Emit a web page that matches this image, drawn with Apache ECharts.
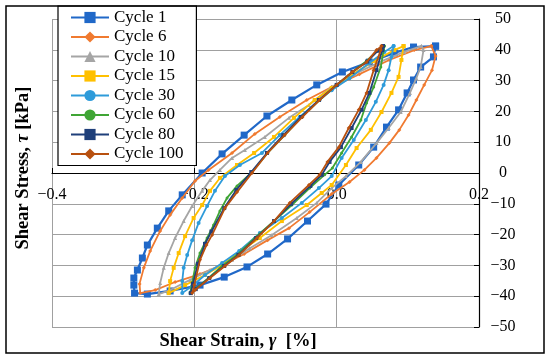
<!DOCTYPE html>
<html>
<head>
<meta charset="utf-8">
<script src="https://cdn.jsdelivr.net/npm/echarts@6/dist/echarts.min.js"></script>
<style>html,body{margin:0;padding:0;background:#fff}#c{width:550px;height:361px}</style>
</head>
<body>
<div id="c"></div>
<script>
var seriesNames = ['Cycle 1','Cycle 6','Cycle 10','Cycle 15','Cycle 30','Cycle 60','Cycle 80','Cycle 100'];
var cycle1 = [[0.139,41.2],[0.136,37.7],[0.118,34.4],[0.108,30.2],[0.099,26.0],[0.087,20.5],[0.070,14.9],[0.052,8.4],[0.031,2.6],[0.003,-3.9],[-0.015,-10.1],[-0.041,-15.6],[-0.069,-21.4],[-0.097,-26.3],[-0.126,-30.5],[-0.158,-33.8],[-0.192,-36.4],[-0.234,-38.3],[-0.266,-39.3],[-0.284,-39.0],[-0.285,-36.4],[-0.285,-34.1],[-0.280,-31.5],[-0.273,-27.6],[-0.266,-23.4],[-0.252,-17.9],[-0.236,-12.3],[-0.217,-7.1],[-0.189,0],[-0.161,6.2],[-0.130,12.3],[-0.098,18.5],[-0.063,23.7],[-0.028,28.6],[0.008,32.8],[0.046,36.0],[0.081,39.0],[0.108,40.9],[0.139,41.2]];
var cycle6 = [[0.133,41.2],[0.139,38.0],[0.134,33.4],[0.123,28.6],[0.112,23.7],[0.101,18.8],[0.088,14.0],[0.074,9.7],[0.056,4.9],[0.039,1.0],[0.018,-2.9],[-0.007,-6.8],[-0.038,-12.7],[-0.067,-17.9],[-0.097,-21.8],[-0.130,-26.3],[-0.161,-29.9],[-0.192,-32.8],[-0.227,-35.4],[-0.255,-38.0],[-0.276,-39.0],[-0.277,-36.0],[-0.271,-30.8],[-0.262,-25.3],[-0.248,-18.8],[-0.234,-13.6],[-0.217,-8.1],[-0.199,-2.6],[-0.180,1.0],[-0.147,6.5],[-0.115,12.7],[-0.080,18.2],[-0.042,23.7],[-0.007,27.9],[0.032,32.1],[0.074,36.7],[0.109,39.9],[0.133,41.2]];
var cycle10 = [[0.119,41.2],[0.122,39.9],[0.118,34.4],[0.112,30.8],[0.103,26.0],[0.090,19.8],[0.073,14.6],[0.056,9.7],[0.034,3.6],[0.013,-1.0],[-0.007,-4.9],[-0.028,-9.7],[-0.056,-14.6],[-0.091,-20.1],[-0.122,-24.4],[-0.147,-28.2],[-0.178,-31.5],[-0.206,-34.7],[-0.234,-38.0],[-0.250,-39.3],[-0.248,-35.7],[-0.243,-30.8],[-0.236,-26.0],[-0.227,-21.1],[-0.215,-15.6],[-0.203,-10.7],[-0.189,-5.8],[-0.178,-2.3],[-0.164,1.0],[-0.147,4.9],[-0.129,7.5],[-0.101,11.7],[-0.067,17.9],[-0.039,22.1],[-0.007,27.9],[0.025,32.1],[0.060,36.0],[0.095,39.3],[0.119,41.2]];
var cycle15 = [[0.094,41.2],[0.091,36.7],[0.087,31.2],[0.077,26.0],[0.063,19.8],[0.048,14.0],[0.028,8.1],[0.013,2.6],[-0.007,-3.9],[-0.021,-6.5],[-0.042,-10.4],[-0.077,-15.6],[-0.108,-21.1],[-0.133,-25.0],[-0.161,-29.9],[-0.185,-33.1],[-0.213,-36.4],[-0.236,-39.0],[-0.234,-35.1],[-0.229,-30.8],[-0.222,-26.0],[-0.213,-20.5],[-0.201,-14.6],[-0.189,-10.4],[-0.178,-5.8],[-0.164,-1.6],[-0.140,2.6],[-0.116,6.5],[-0.088,11.7],[-0.060,17.9],[-0.031,23.7],[-0.007,27.6],[0.018,31.5],[0.053,36.4],[0.081,39.9],[0.094,41.2]];
var cycle30 = [[0.080,41.2],[0.077,37.7],[0.073,33.4],[0.066,28.6],[0.055,23.1],[0.041,17.2],[0.024,10.7],[0.007,4.9],[-0.007,-1.0],[-0.025,-4.9],[-0.049,-9.7],[-0.077,-14.6],[-0.108,-19.5],[-0.137,-25.3],[-0.161,-29.2],[-0.185,-33.1],[-0.203,-36.7],[-0.217,-39.0],[-0.217,-35.1],[-0.215,-30.8],[-0.210,-26.6],[-0.203,-21.8],[-0.194,-16.2],[-0.182,-10.7],[-0.171,-5.8],[-0.157,-1.0],[-0.136,2.6],[-0.105,6.5],[-0.080,12.3],[-0.052,18.2],[-0.024,23.7],[-0.007,26.9],[0.018,30.8],[0.046,35.7],[0.067,39.3],[0.080,41.2]];
var cycle60 = [[0.067,41.2],[0.066,39.9],[0.062,34.4],[0.052,27.9],[0.042,22.7],[0.034,17.2],[0.021,11.7],[0.007,6.5],[-0.006,1.6],[-0.017,-0.6],[-0.038,-4.9],[-0.063,-10.4],[-0.088,-15.6],[-0.115,-21.1],[-0.140,-26.6],[-0.161,-30.2],[-0.180,-34.1],[-0.197,-37.3],[-0.206,-39.0],[-0.203,-35.7],[-0.199,-30.8],[-0.192,-26.0],[-0.182,-21.1],[-0.173,-16.9],[-0.164,-12.3],[-0.154,-8.1],[-0.140,-4.2],[-0.119,0.3],[-0.097,6.5],[-0.073,12.3],[-0.048,18.5],[-0.024,23.7],[0,28.6],[0.022,32.8],[0.042,36.4],[0.057,39.6],[0.067,41.2]];
var cycle80 = [[0.065,41.2],[0.064,39.9],[0.056,33.4],[0.046,26.0],[0.035,20.5],[0.021,14.6],[0.006,8.4],[-0.010,3.6],[-0.021,-0.6],[-0.037,-4.2],[-0.064,-10.0],[-0.088,-15.6],[-0.113,-21.1],[-0.138,-26.6],[-0.158,-30.2],[-0.179,-34.1],[-0.198,-37.7],[-0.205,-39.0],[-0.202,-36.0],[-0.195,-29.5],[-0.185,-23.0],[-0.176,-19.0],[-0.158,-11.4],[-0.141,-5.5],[-0.120,0.3],[-0.098,6.5],[-0.075,12.3],[-0.050,18.2],[-0.025,23.7],[0,28.6],[0.022,32.8],[0.043,36.2],[0.058,39.7],[0.065,41.2]];
var cycle100 = [[0.063,41.2],[0.062,39.9],[0.052,33.4],[0.042,26.0],[0.031,20.5],[0.017,14.6],[0.003,8.4],[-0.013,3.6],[-0.024,-0.6],[-0.039,-3.9],[-0.066,-9.7],[-0.088,-15.6],[-0.112,-21.1],[-0.137,-26.6],[-0.157,-30.2],[-0.178,-34.1],[-0.199,-38.0],[-0.203,-39.0],[-0.200,-36.4],[-0.192,-28.2],[-0.183,-23.4],[-0.175,-20.1],[-0.157,-11.4],[-0.140,-6.2],[-0.119,0],[-0.097,6.5],[-0.073,12.3],[-0.048,18.2],[-0.024,23.7],[0,28.6],[0.022,32.8],[0.042,36.0],[0.056,39.9],[0.063,41.2]];

var allData = [cycle1, cycle6, cycle10, cycle15, cycle30, cycle60, cycle80, cycle100];
var colors = ['#2068C8','#F07A30','#A5A5A5','#FFC000','#2E9BDA','#3FA535','#1F3F7A','#B8500F'];
var symbols = ['rect','diamond','triangle','rect','circle','circle','rect','diamond'];
var symbolSizes = [7,4,4,4,4,3,4,4];
var FONT = '"Liberation Serif", "Times New Roman", serif';

function fmtMinus(v){ return v < 0 ? '\u2212' + Math.abs(v) : String(v); }

var chart = echarts.init(document.getElementById('c'), null, {renderer:'canvas'});
var series = allData.map(function(d, i){
  return {
    name: seriesNames[i], type: 'line', data: d,
    symbol: symbols[i], symbolSize: symbolSizes[i], showSymbol: true,
    lineStyle: {width: i === 0 ? 2.2 : 1.8, color: colors[i]},
    itemStyle: {color: colors[i]},
    z: 2 + i, animation: false
  };
});
chart.setOption({
  animation: false,
  grid: {left: 52, right: 71, top: 19, bottom: 34},
  xAxis: {
    type: 'value', min: -0.4, max: 0.2, interval: 0.2, offset: -154,
    axisLine: {show: true, onZero: false, lineStyle: {color: '#000', width: 1.2}},
    axisTick: {show: true, inside: true, length: 5, lineStyle: {color: '#000'}},
    axisLabel: {margin: 14, color: '#000', fontFamily: FONT, fontSize: 16,
      formatter: function(v){ var s = Math.abs(v).toFixed(1); return v < -1e-9 ? '\u2212' + s : s; }},
    splitLine: {show: true, lineStyle: {color: '#A0A0A0', width: 1}}
  },
  yAxis: {
    type: 'value', position: 'right', min: -50, max: 50, interval: 10,
    axisLine: {show: true, onZero: false, lineStyle: {color: '#000', width: 1.2}},
    axisTick: {show: true, inside: true, length: 5, lineStyle: {color: '#000'}},
    axisLabel: {margin: 24, align: 'center', color: '#000', fontFamily: FONT, fontSize: 16, formatter: fmtMinus},
    splitLine: {show: true, lineStyle: {color: '#A0A0A0', width: 1}}
  },
  legend: {
    orient: 'vertical', left: 58, top: 6,
    padding: [3, 13, 3, 12], itemGap: 2.5, itemWidth: 38, itemHeight: 14,
    backgroundColor: '#fff', borderColor: '#000', borderWidth: 1.2,
    textStyle: {fontFamily: FONT, fontSize: 17, color: '#000', lineHeight: 16},
    data: seriesNames
  },
  graphic: [
    {type: 'rect', shape: {x: 6, y: 6, width: 538, height: 347}, style: {fill: 'none', stroke: '#000', lineWidth: 1.5}, z: 100, silent: true},
    {type: 'text', x: 23, y: 168, rotation: Math.PI / 2, z: 100,
      style: {text: '{b|Shear Stress, }{i|\u03c4}{b| [kPa]}', align: 'center', verticalAlign: 'middle',
        rich: {b: {font: 'bold 18.5px ' + FONT, fill: '#000'}, i: {font: 'italic bold 18.5px ' + FONT, fill: '#000'}}}},
    {type: 'text', x: 238, y: 341, z: 100,
      style: {text: '{b|Shear Strain, }{i|\u03b3}{b|  [%]}', align: 'center', verticalAlign: 'middle',
        rich: {b: {font: 'bold 18.5px ' + FONT, fill: '#000'}, i: {font: 'italic bold 18.5px ' + FONT, fill: '#000'}}}}
  ],
  series: series
});
</script>
</body>
</html>
